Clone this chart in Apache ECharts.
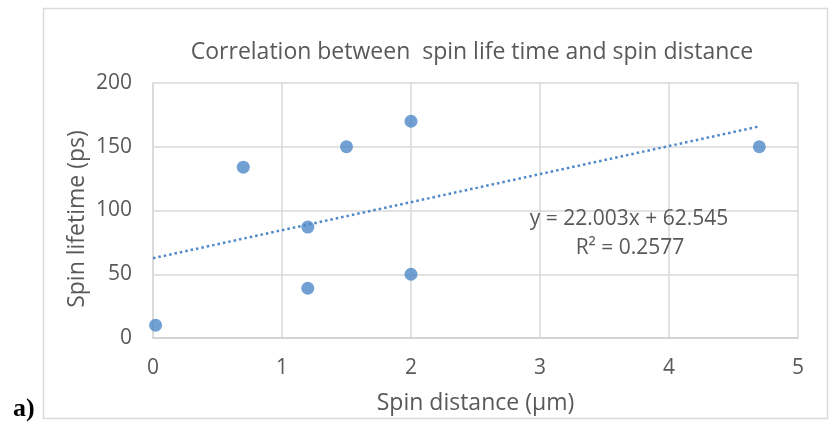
<!DOCTYPE html>
<html>
<head>
<meta charset="utf-8">
<script src="https://cdn.jsdelivr.net/npm/echarts@6/dist/echarts.min.js"></script>
<style>
	html, body { margin: 0; padding: 0; background: #fff; }
	#chart { width: 829px; height: 423px; }
</style>
</head>
<body>
<div id="chart"></div>
<script>
// spin distance (um) and spin lifetime (ps)
var spinDistance = [0.02, 0.7, 1.2, 1.2, 1.5, 2, 2, 4.7]
var spinLifetime = [10, 134, 87, 39, 150, 170, 50, 150]
var xTicks = [0, 1, 2, 3, 4, 5]
var yTicks = [0, 50, 100, 150, 200]
// linear trend line as printed on the chart
var trendSlope = 22.003
var trendIntercept = 62.545
var trendR2 = 0.2577
var trendRange = [0, 4.7]

var textColor = '#595959'
var dotColor = '#4f88c8'
var fontName = 'Open Sans'

var points = spinDistance.map(function (x, i) { return [x, spinLifetime[i]] })
var trendPoints = trendRange.map(function (x) { return [x, trendSlope * x + trendIntercept] })

var myChart = echarts.init(document.getElementById('chart'))
var option = {
	animation: false,
	backgroundColor: '#fff',
	title: {
		text: 'Correlation between  spin life time and spin distance',
		left: 467,
		top: 36,
		textAlign: 'center',
		textStyle: {
			color: textColor,
			fontFamily: fontName,
			fontWeight: 'normal',
			fontSize: 23
		}
	},
	grid: {
		left: 153,
		right: 31,
		top: 83,
		bottom: 85
	},
	xAxis: {
		type: 'value',
		min: xTicks[0],
		max: xTicks[xTicks.length - 1],
		interval: 1,
		name: 'Spin distance (µm)',
		nameLocation: 'middle',
		nameGap: 54,
		nameTextStyle: { color: textColor, fontFamily: fontName, fontSize: 23 },
		axisLine: { show: true, lineStyle: { color: '#d0d0d0', width: 1.5 } },
		axisTick: { show: false },
		axisLabel: {
			color: textColor, fontFamily: fontName, fontSize: 21, margin: 20,
			formatter: function (v) { return xTicks.indexOf(v) >= 0 ? String(v) : '' }
		},
		splitLine: { show: true, lineStyle: { color: '#d9d9d9', width: 1.5 } }
	},
	yAxis: {
		type: 'value',
		min: yTicks[0],
		max: yTicks[yTicks.length - 1],
		interval: 50,
		axisLine: { show: true, lineStyle: { color: '#d9d9d9', width: 1.5 } },
		axisTick: { show: false },
		axisLabel: {
			color: textColor, fontFamily: fontName, fontSize: 21, margin: 21,
			formatter: function (v) { return yTicks.indexOf(v) >= 0 ? String(v) : '' }
		},
		splitLine: { show: true, lineStyle: { color: '#d9d9d9', width: 1.5 } }
	},
	series: [{
		name: 'trend',
		type: 'line',
		data: trendPoints,
		symbol: 'none',
		silent: true,
		z: 1,
		lineStyle: { color: dotColor, width: 2.5, type: [2.5, 3] }
	}, {
		name: 'data',
		type: 'scatter',
		data: points,
		symbol: 'circle',
		symbolSize: 13,
		z: 3,
		itemStyle: { color: dotColor }
	}],
	graphic: [{
		type: 'rect',
		shape: { x: 43.5, y: 8.5, width: 784, height: 410 },
		style: { fill: 'none', stroke: '#d9d9d9', lineWidth: 1.5 },
		z: -1,
		silent: true
	}, {
		// y axis title, Excel puts it a bit below the plot middle
		type: 'text',
		x: 77,
		y: 219,
		rotation: Math.PI / 2,
		style: {
			text: 'Spin lifetime (ps)',
			font: '23px "' + fontName + '"',
			fill: textColor,
			align: 'center',
			verticalAlign: 'middle'
		}
	}, {
		type: 'text',
		left: 13,
		top: 396,
		style: {
			text: 'a)',
			font: 'bold 26px "Liberation Serif", serif',
			fill: '#000'
		}
	}, {
		type: 'text',
		x: 629,
		y: 219,
		style: {
			text: 'y = ' + trendSlope.toFixed(3) + 'x + ' + trendIntercept.toFixed(3),
			font: '21px "' + fontName + '"',
			fill: textColor,
			align: 'center',
			verticalAlign: 'middle'
		},
		z: 10
	}, {
		type: 'text',
		x: 630,
		y: 248,
		style: {
			text: 'R² = ' + trendR2,
			font: '21px "' + fontName + '"',
			fill: textColor,
			align: 'center',
			verticalAlign: 'middle'
		},
		z: 10
	}]
}
myChart.clear()
myChart.setOption(option)
</script>
</body>
</html>
